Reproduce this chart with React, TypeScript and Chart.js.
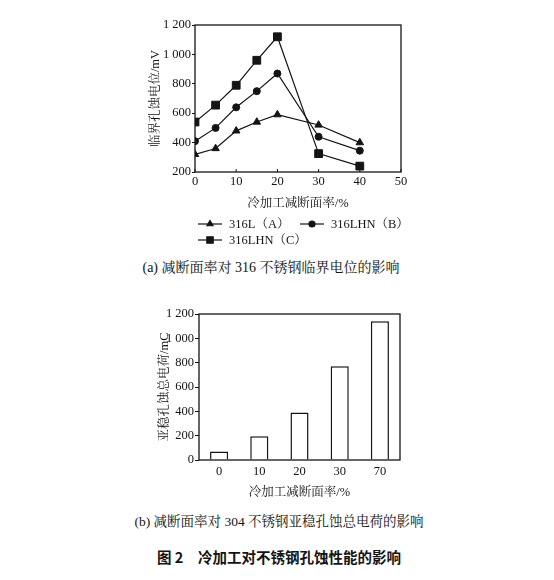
import React, { useEffect, useRef } from 'react';
import { Chart, registerables } from 'chart.js';
import { drawPoint } from 'chart.js/helpers';

Chart.register(...registerables);

// (a) critical pitting potential vs. cold-work reduction
const reductionA = [0, 5, 10, 15, 20, 30, 40];
const potential316L = [320, 360, 480, 540, 590, 520, 400];
const potential316LHN_B = [410, 500, 640, 750, 870, 440, 345];
const potential316LHN_C = [540, 655, 790, 960, 1120, 325, 240];
const seriesLabels = ['316L（A）', '316LHN（B）', '316LHN（C）'];

// (b) total metastable pitting charge
const reductionB = ['0', '10', '20', '30', '70'];
const pittingCharge = [70, 195, 390, 770, 1140];

const INK = '#141414';
const SERIF = "'Liberation Serif', 'Noto Serif CJK SC', 'Noto Sans CJK SC', serif";

const fmtThousands = (v: number | string) => {
  const n = Number(v);
  if (n >= 1000) return `${Math.floor(n / 1000)} ${String(n % 1000).padStart(3, '0')}`;
  return String(n);
};

// box around the plot area, optional small inward ticks on x
const framePlugin = {
  id: 'frame',
  afterDraw(chart: any, _args: any, opts: any) {
    const { ctx, chartArea: a } = chart;
    ctx.save();
    ctx.strokeStyle = INK;
    ctx.lineWidth = 1.3;
    ctx.strokeRect(a.left, a.top, a.right - a.left, a.bottom - a.top);
    if (opts && opts.innerTicks) {
      ctx.lineWidth = 1;
      const xs = chart.scales.x;
      xs.ticks.forEach((t: any) => {
        const px = xs.getPixelForValue(t.value);
        ctx.beginPath();
        ctx.moveTo(px, a.bottom);
        ctx.lineTo(px, a.bottom - 3);
        ctx.stroke();
      });
    }
    ctx.restore();
  },
};

// legend drawn as line + marker + text below the x title
const lineLegendPlugin = {
  id: 'lineLegend',
  afterDraw(chart: any, _args: any, opts: any) {
    if (!opts || !opts.items) return;
    const { ctx } = chart;
    ctx.save();
    chart.data.datasets.forEach((ds: any, i: number) => {
      const it = opts.items[i];
      if (!it) return;
      ctx.strokeStyle = INK;
      ctx.lineWidth = 1.2;
      ctx.beginPath();
      ctx.moveTo(it.x, it.y);
      ctx.lineTo(it.x + 24, it.y);
      ctx.stroke();
      ctx.fillStyle = INK;
      drawPoint(ctx, { pointStyle: ds.pointStyle, radius: it.r, rotation: 0, borderWidth: 1 }, it.x + 12, it.y);
      ctx.fillStyle = INK;
      ctx.font = `12.5px ${SERIF}`;
      ctx.textBaseline = 'middle';
      ctx.textAlign = 'left';
      ctx.fillText(ds.label, it.x + 31, it.y + 1);
    });
    ctx.restore();
  },
};

const PotentialChart = () => {
  const canvasRef = useRef<HTMLCanvasElement>(null);

  useEffect(() => {
    const canvas = canvasRef.current;
    if (!canvas) return;
    const mk = (label: string, values: number[], style: string, r: number) => ({
      label,
      data: reductionA.map((x, i) => ({ x, y: values[i] })),
      borderColor: INK,
      backgroundColor: INK,
      borderWidth: 1.2,
      pointStyle: style,
      pointRadius: r,
      pointBorderWidth: 1,
      tension: 0,
    });
    const chart = new Chart(canvas, {
      type: 'line',
      data: {
        datasets: [
          mk(seriesLabels[0], potential316L, 'triangle', 4.3),
          mk(seriesLabels[1], potential316LHN_B, 'circle', 3.5),
          mk(seriesLabels[2], potential316LHN_C, 'rect', 5.5),
        ],
      },
      plugins: [framePlugin, lineLegendPlugin],
      options: {
        animation: false,
        responsive: true,
        maintainAspectRatio: false,
        layout: { padding: { left: 0, right: 9, top: 15, bottom: 39 } },
        plugins: {
          legend: { display: false },
          tooltip: { enabled: false },
          frame: { innerTicks: true },
          lineLegend: {
            items: [
              { x: 68, y: 214, r: 3.5 },
              { x: 170, y: 214, r: 3 },
              { x: 68, y: 230, r: 4.5 },
            ],
          },
        } as any,
        scales: {
          x: {
            type: 'linear',
            min: 0,
            max: 50,
            grid: { display: false, drawTicks: false, tickLength: 0 },
            border: { display: false },
            ticks: { stepSize: 10, color: INK, padding: 2, font: { family: SERIF, size: 12.5 } },
            title: {
              display: true,
              text: '冷加工减断面率/%',
              color: INK,
              padding: { top: 0, bottom: 5 },
              font: { family: SERIF, size: 12.5 },
            },
            afterFit: (s: any) => {
              s.height = 44;
            },
          },
          y: {
            min: 200,
            max: 1200,
            grid: { display: true, drawOnChartArea: false, drawTicks: true, tickLength: 3, color: INK },
            border: { display: false },
            ticks: {
              stepSize: 200,
              color: INK,
              padding: 1,
              font: { family: SERIF, size: 12.5 },
              callback: (v: any) => fmtThousands(v),
            },
            title: {
              display: true,
              text: '临界孔蚀电位/mV',
              color: INK,
              padding: { top: 18, bottom: 0 },
              font: { family: SERIF, size: 12.5 },
            },
            afterFit: (s: any) => {
              s.width = 65;
            },
          },
        },
      },
    });
    return () => chart.destroy();
  }, []);

  return (
    <div style={{ position: 'absolute', left: 130, top: 10, width: 280, height: 245 }}>
      <canvas ref={canvasRef}></canvas>
    </div>
  );
};

const ChargeChart = () => {
  const canvasRef = useRef<HTMLCanvasElement>(null);

  useEffect(() => {
    const canvas = canvasRef.current;
    if (!canvas) return;
    const chart = new Chart(canvas, {
      type: 'bar',
      data: {
        labels: reductionB,
        datasets: [
          {
            label: '亚稳孔蚀总电荷',
            data: pittingCharge,
            backgroundColor: '#ffffff',
            borderColor: INK,
            borderWidth: 1.5,
            barPercentage: 0.45,
            categoryPercentage: 1,
          },
        ],
      },
      plugins: [framePlugin],
      options: {
        animation: false,
        responsive: true,
        maintainAspectRatio: false,
        layout: { padding: { left: 0, right: 10, top: 14, bottom: 5 } },
        plugins: {
          legend: { display: false },
          tooltip: { enabled: false },
        },
        scales: {
          x: {
            grid: { display: false, drawTicks: false, tickLength: 0 },
            border: { display: false },
            ticks: { color: INK, padding: 4, font: { family: SERIF, size: 12.5 } },
            title: {
              display: true,
              text: '冷加工减断面率/%',
              color: INK,
              padding: { top: 0, bottom: 0 },
              font: { family: SERIF, size: 12.5 },
            },
            afterFit: (s: any) => {
              s.height = 40;
            },
          },
          y: {
            min: 0,
            max: 1200,
            grid: { display: true, drawOnChartArea: false, drawTicks: true, tickLength: 4, color: INK },
            border: { display: false },
            ticks: {
              stepSize: 200,
              color: INK,
              padding: 1,
              font: { family: SERIF, size: 12.5 },
              callback: (v: any) => fmtThousands(v),
            },
            title: {
              display: true,
              text: '亚稳孔蚀总电荷/mC',
              color: INK,
              padding: { top: 27, bottom: 0 },
              font: { family: SERIF, size: 12.5 },
            },
            afterFit: (s: any) => {
              s.width = 69;
            },
          },
        },
      },
    });
    return () => chart.destroy();
  }, []);

  return (
    <div style={{ position: 'absolute', left: 130, top: 300, width: 280, height: 205 }}>
      <canvas ref={canvasRef}></canvas>
    </div>
  );
};

const caption: React.CSSProperties = {
  position: 'absolute',
  left: 0,
  width: 554,
  textAlign: 'center',
  color: INK,
  fontFamily: SERIF,
  fontSize: 13.5,
  lineHeight: '16px',
  whiteSpace: 'nowrap',
};

const App = () => (
  <div style={{ position: 'absolute', left: 0, top: 0, width: 554, height: 580, background: '#fff' }}>
    <PotentialChart />
    <div style={{ ...caption, top: 260, left: -6, fontSize: 14 }}>(a) 减断面率对 316 不锈钢临界电位的影响</div>
    <ChargeChart />
    <div style={{ ...caption, top: 514, left: 2 }}>(b) 减断面率对 304 不锈钢亚稳孔蚀总电荷的影响</div>
    <div
      style={{
        ...caption,
        top: 548,
        left: 2,
        fontFamily: "'Noto Sans CJK SC', sans-serif",
        fontWeight: 700,
        fontSize: 14.5,
        lineHeight: '18px',
      }}
    >
      图 2　冷加工对不锈钢孔蚀性能的影响
    </div>
  </div>
);

export default App;
